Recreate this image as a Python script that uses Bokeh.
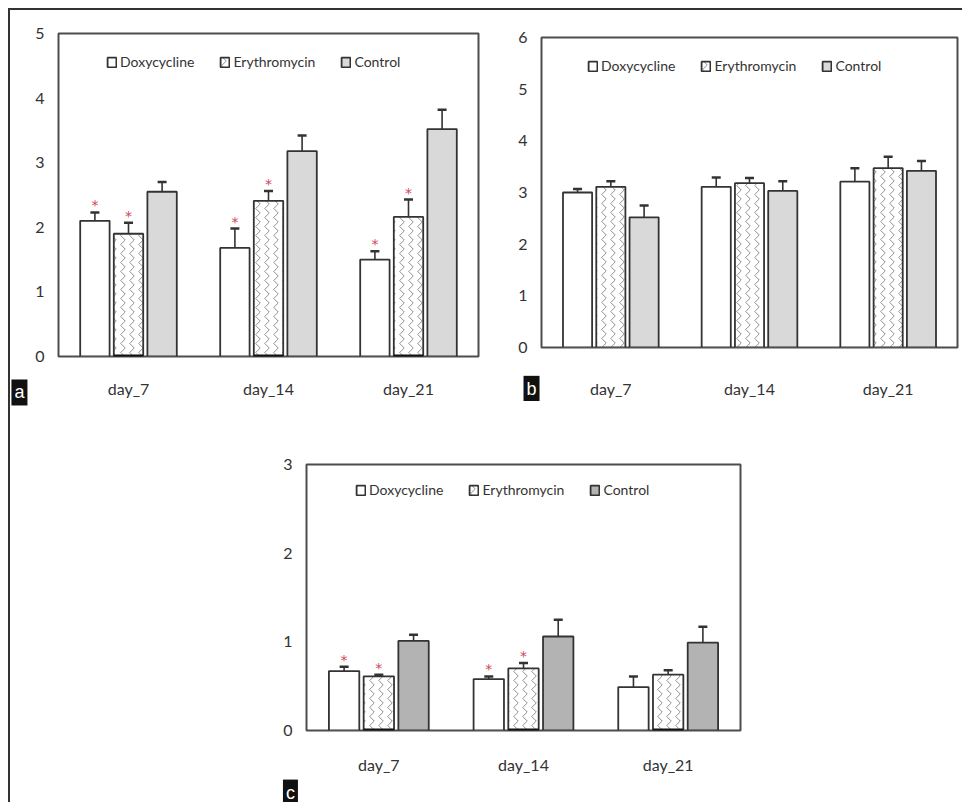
from bokeh.plotting import figure
from bokeh.models import (FactorRange, Range1d, FixedTicker, Whisker, TeeHead,
                          ColumnDataSource, Legend, LegendItem, Label, Spacer)
from bokeh.layouts import row, column
from bokeh.transform import dodge
from bokeh.core.properties import value
from bokeh.embed import file_html
from bokeh.resources import INLINE

# ---------------- data ----------------
days = ["day_7", "day_14", "day_21"]
series_names = ["Doxycycline", "Erythromycin", "Control"]

# panel a
a_doxy = [2.10, 1.68, 1.50]
a_doxy_err = [2.23, 1.98, 1.63]
a_ery = [1.90, 2.41, 2.16]
a_ery_err = [2.07, 2.56, 2.43]
a_ctrl = [2.55, 3.18, 3.52]
a_ctrl_err = [2.70, 3.42, 3.82]
a_doxy_sig = [True, True, True]
a_ery_sig = [True, True, True]
a_ticks = [0, 1, 2, 3, 4, 5]

# panel b
b_doxy = [3.00, 3.11, 3.21]
b_doxy_err = [3.07, 3.29, 3.47]
b_ery = [3.11, 3.18, 3.47]
b_ery_err = [3.22, 3.28, 3.69]
b_ctrl = [2.52, 3.03, 3.42]
b_ctrl_err = [2.75, 3.22, 3.61]
b_doxy_sig = [False, False, False]
b_ery_sig = [False, False, False]
b_ticks = [0, 1, 2, 3, 4, 5, 6]

# panel c
c_doxy = [0.67, 0.58, 0.49]
c_doxy_err = [0.72, 0.61, 0.61]
c_ery = [0.61, 0.70, 0.63]
c_ery_err = [0.63, 0.76, 0.68]
c_ctrl = [1.01, 1.06, 0.99]
c_ctrl_err = [1.08, 1.25, 1.17]
c_doxy_sig = [True, True, False]
c_ery_sig = [True, True, False]
c_ticks = [0, 1, 2, 3]

OFFSETS = [-0.24, 0.0, 0.24]
BAR_W = 0.21
TXT = "#333333"
FONT = "Lato"


def make_panel(width, height, borders, ticks, means, errs, sigs, ctrl_color,
               legend_xy, tag, tag_xy, ery_base, xstand):
    left, right, top, bottom = borders
    p = figure(x_range=FactorRange(factors=days), y_range=Range1d(ticks[0], ticks[-1]),
               width=width, height=height, output_backend="svg", toolbar_location=None,
               min_border_left=left, min_border_right=right,
               min_border_top=top, min_border_bottom=bottom)
    p.background_fill_color = "white"
    p.border_fill_color = "white"
    p.outline_line_color = "#4d4d4d"
    p.outline_line_width = 2
    p.xgrid.visible = False
    p.ygrid.visible = False

    p.yaxis.ticker = FixedTicker(ticks=ticks)
    for ax in (p.xaxis[0], p.yaxis[0]):
        ax.axis_line_color = None
        ax.major_tick_line_color = None
        ax.minor_tick_line_color = None
        ax.major_label_text_font = FONT
        ax.major_label_text_color = TXT
        ax.major_label_text_font_size = "16px"
    p.yaxis.major_label_standoff = 8
    p.xaxis.major_label_standoff = xstand

    fills = ["white", "white", ctrl_color]
    hatches = [None, "vertical_wave", None]
    items = []
    for i, name in enumerate(series_names):
        off = OFFSETS[i]
        src = ColumnDataSource(dict(day=days, v=means[i], e=errs[i]))
        kw = dict(fill_color=fills[i], line_color="#333333", line_width=1.8)
        if hatches[i]:
            kw.update(hatch_pattern=hatches[i], hatch_color="#8f8f8f",
                      hatch_scale=9, hatch_weight=1)
        r = p.vbar(x=dodge("day", off, range=p.x_range), top="v", width=BAR_W,
                   source=src, **kw)
        items.append(LegendItem(label=name, renderers=[r]))
        wh = Whisker(base=dodge("day", off, range=p.x_range), lower="v", upper="e",
                     source=src, lower_head=None,
                     upper_head=TeeHead(size=9, line_color="#333333", line_width=2.5),
                     line_color="#333333", line_width=1.6, level="overlay")
        p.add_layout(wh)
        if i == 1 and ery_base:
            p.segment(x0=dodge("day", off - BAR_W / 2, range=p.x_range),
                      x1=dodge("day", off + BAR_W / 2, range=p.x_range),
                      y0=0, y1=0, source=src, line_color="#111111", line_width=4)
        if i < 2:
            sd = [d for d, s in zip(days, sigs[i]) if s]
            se = [e for e, s in zip(errs[i], sigs[i]) if s]
            if sd:
                ssrc = ColumnDataSource(dict(day=sd, e=se))
                p.text(x=dodge("day", off, range=p.x_range), y="e", text=value("*"),
                       source=ssrc, text_color="#d0455a", text_font_size="14px",
                       text_font=value("DejaVu Sans"),
                       text_align="center", text_baseline="bottom", y_offset=1)

    legend = Legend(items=items, location=legend_xy, orientation="horizontal",
                    glyph_width=11, glyph_height=12, label_standoff=3, spacing=25,
                    padding=0, margin=0, label_height=14,
                    label_text_font=FONT, label_text_font_size="14px",
                    label_text_color=TXT, border_line_alpha=0,
                    background_fill_alpha=0)
    p.add_layout(legend)

    # panel tag, placed in a side panel so that it is not clipped to the frame
    lab = Label(x=tag_xy[0], y=tag_xy[1], x_units="data", y_units="data", text=tag,
                text_color="white", text_font="Liberation Sans",
                text_font_size="18px", text_align="center", text_baseline="middle",
                background_fill_color="#111111", padding=3)
    p.add_layout(lab, "left")
    return p


pa = make_panel(472, 400, (48, 4, 23, 54), a_ticks,
                [a_doxy, a_ery, a_ctrl], [a_doxy_err, a_ery_err, a_ctrl_err],
                [a_doxy_sig, a_ery_sig], "#d9d9d9", (48, 286), "a", (-0.279, -0.557),
                True, 16)
pb = make_panel(480, 387, (59, 5, 23, 54), b_ticks,
                [b_doxy, b_ery, b_ctrl], [b_doxy_err, b_ery_err, b_ctrl_err],
                [b_doxy_sig, b_ery_sig], "#d9d9d9", (46, 273), "b", (-0.072, -0.80),
                False, 25)
pc = make_panel(510, 392, (56, 20, 54, 72), c_ticks,
                [c_doxy, c_ery, c_ctrl], [c_doxy_err, c_ery_err, c_ctrl_err],
                [c_doxy_sig, c_ery_sig], "#b3b3b3", (49, 232), "c", (-0.111, -0.70),
                True, 18)

inner = column(row(pa, column(Spacer(width=480, height=4), pb)),
               row(Spacer(width=240, height=392), pc),
               styles={"border-top": "2px solid #333", "border-left": "2px solid #333"})
layout = column(Spacer(width=954, height=8), row(Spacer(width=8, height=794), inner))

open("out.html", "w").write(file_html(layout, INLINE))
